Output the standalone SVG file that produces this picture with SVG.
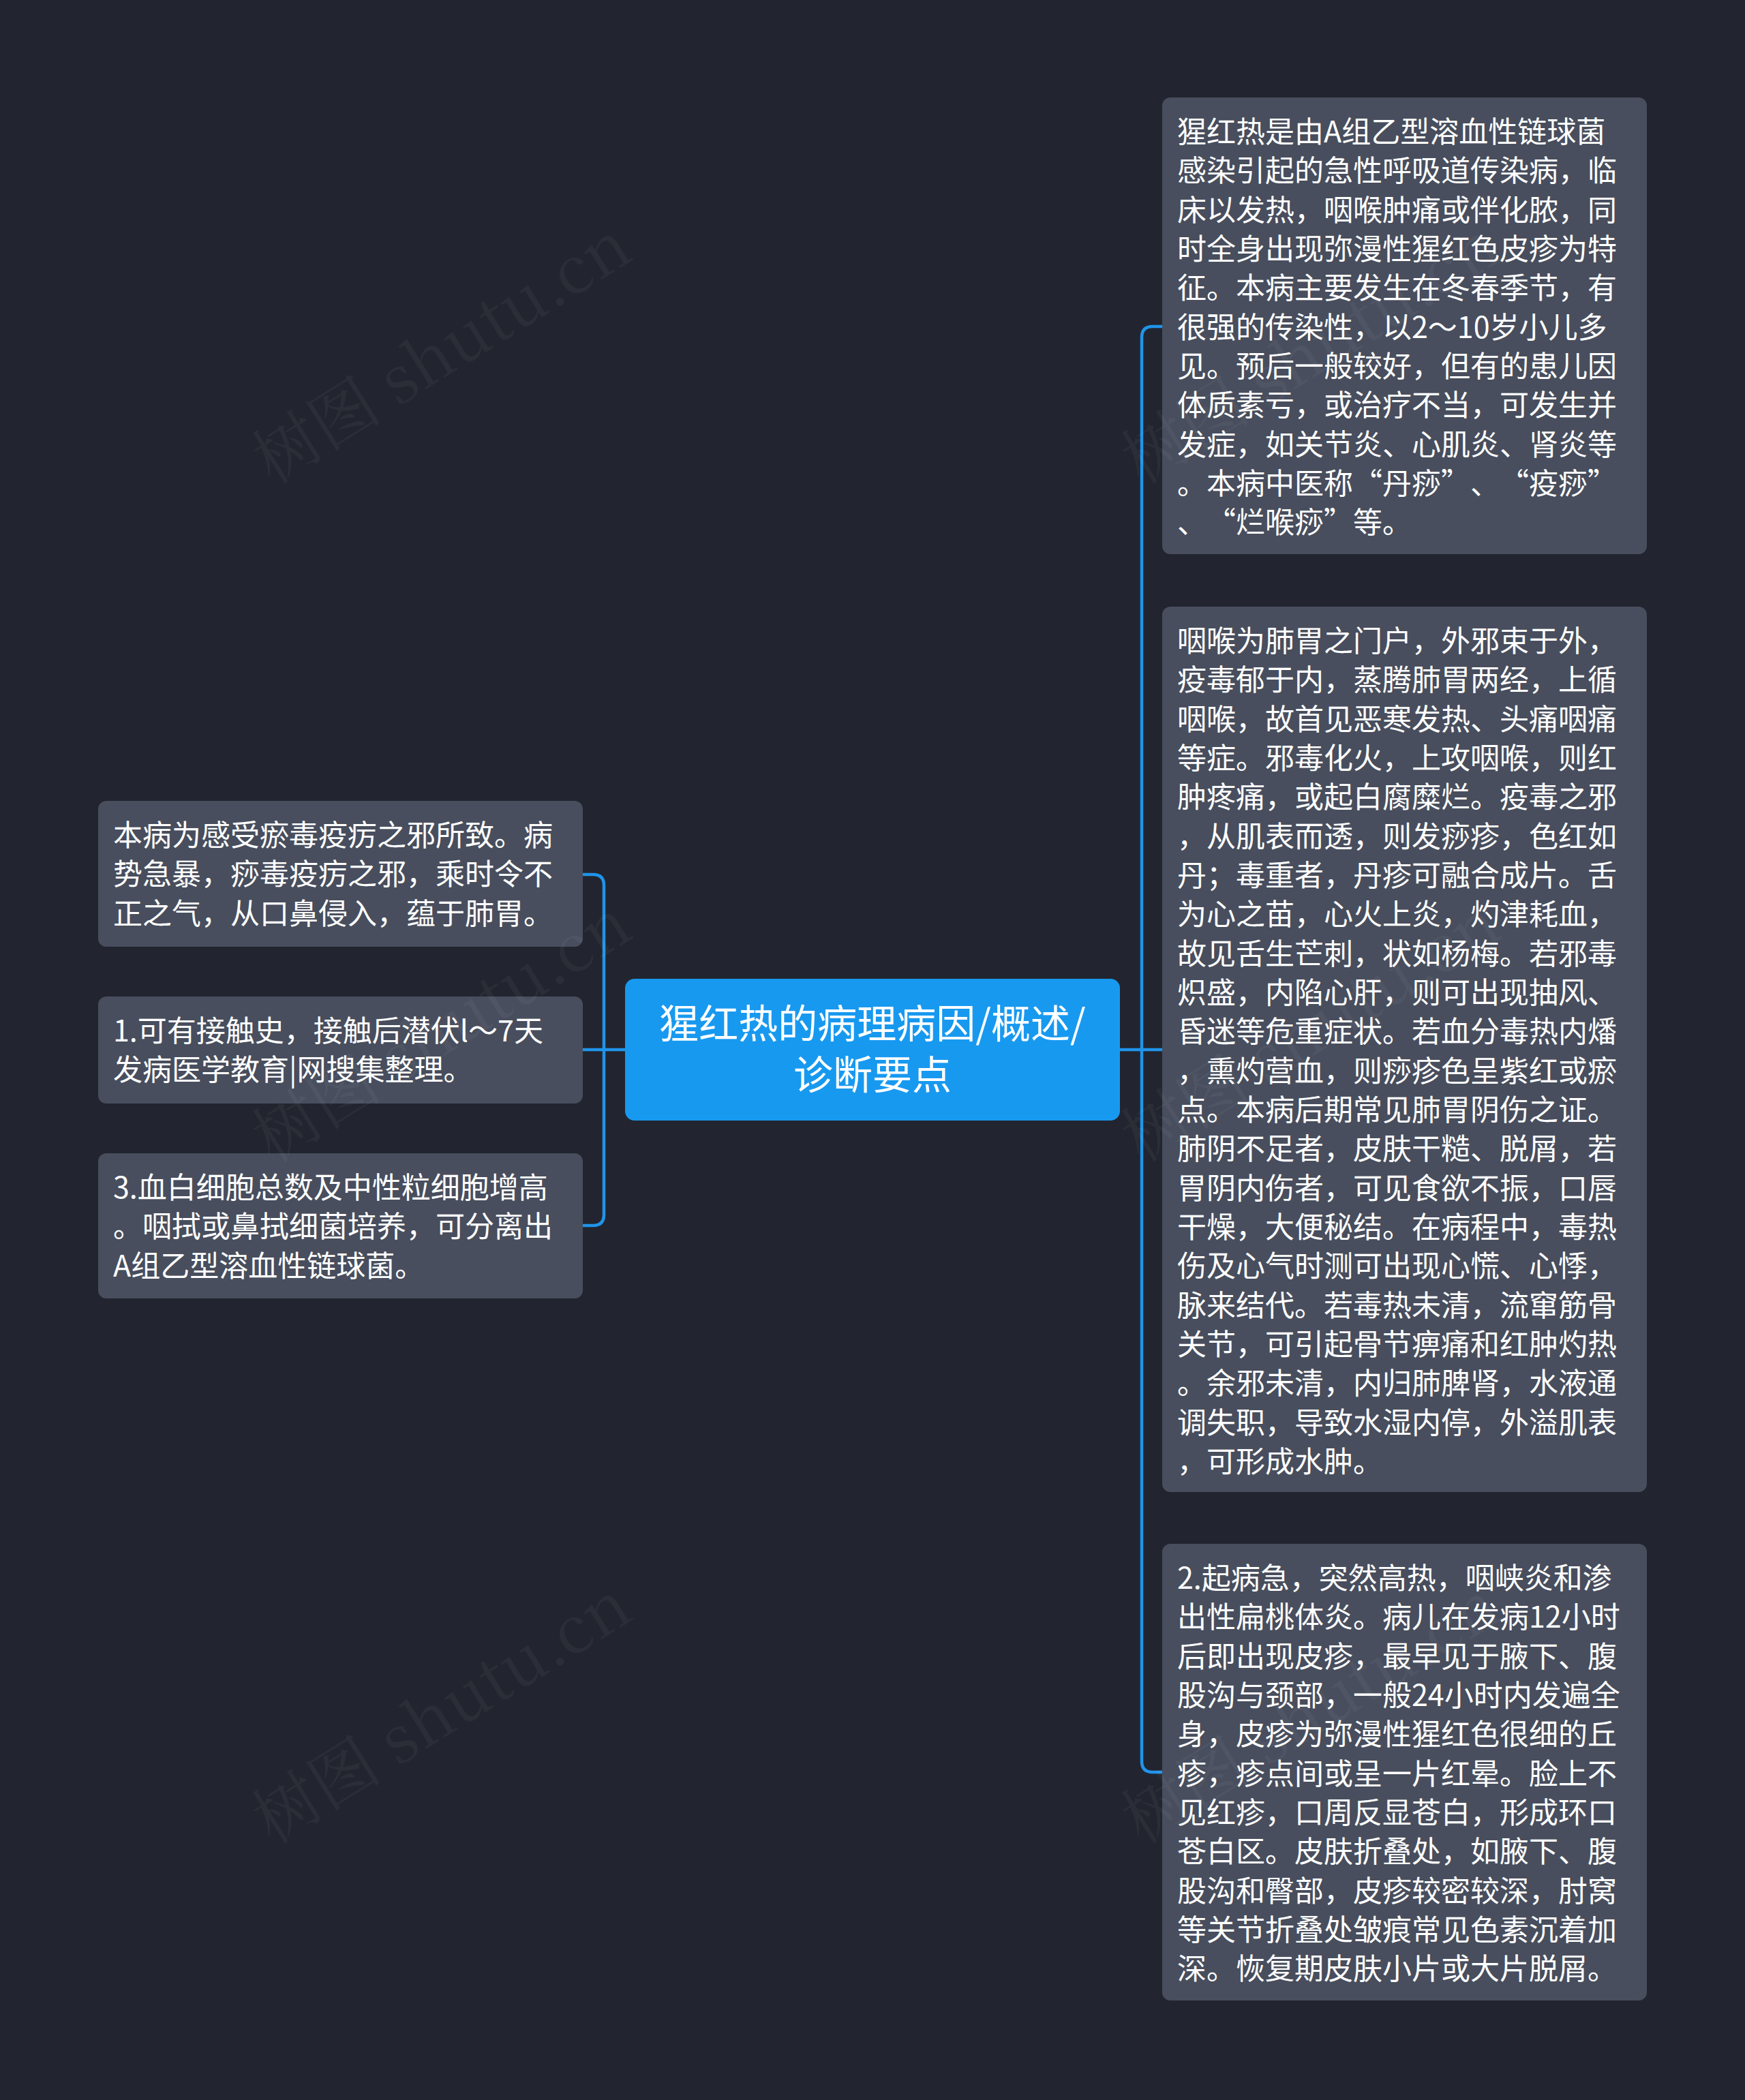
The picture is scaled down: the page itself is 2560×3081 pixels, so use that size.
<svg xmlns="http://www.w3.org/2000/svg" width="2560" height="3081" viewBox="0 0 2560 3081">
<style>
.bg{fill:#22252f}
.node rect{fill:#484e5d}
.node text{fill:#ffffff;font-family:"Noto Sans CJK SC","Noto Sans",sans-serif;font-size:43px}
.e{text-anchor:end}
.root rect{fill:#1899f0}
.root text{fill:#ffffff;font-family:"Noto Sans CJK SC","Noto Sans",sans-serif;font-size:58px;text-anchor:middle}
.conn path{fill:none;stroke:#2094ea;stroke-width:4.5}
.wm{fill:#ffffff;fill-opacity:0.045;font-family:"Noto Serif CJK SC","Noto Sans CJK SC","Liberation Serif",serif;font-size:96px}
</style>
<rect class="bg" x="0" y="0" width="2560" height="3081"/>

<g id="connectors" class="conn">
<path d="M855 1283 H870 Q886 1283 886 1299 V1782 Q886 1798 870 1798 H855"/>
<path d="M917 1540 H855"/>
<path d="M1705 479 H1691 Q1675 479 1675 495 V2584 Q1675 2600 1691 2600 H1705"/>
<path d="M1643 1540 H1705"/>
</g>

<g id="root" class="root">
<rect x="917" y="1436" width="726" height="208" rx="14"/>
<text><tspan x="1280" y="1523">猩红热的病理病因/概述/</tspan><tspan x="1280" y="1598">诊断要点</tspan></text>
</g>

<g id="left1" class="node">
<rect x="144" y="1175" width="711" height="214" rx="12"/>
<text><tspan x="166" y="1241">本病为感受瘀毒疫疠之邪所致。病</tspan><tspan x="166" y="1298">势急暴，痧毒疫疠之邪，乘时令不</tspan><tspan x="166" y="1356">正之气，从口鼻侵入，蕴于肺胃。</tspan></text>
</g>

<g id="left2" class="node">
<rect x="144" y="1462" width="711" height="157" rx="12"/>
<text><tspan x="166" y="1528">1.可有接触史，接触后潜伏l～7天</tspan><tspan x="166" y="1585">发病医学教育|网搜集整理。</tspan></text>
</g>

<g id="left3" class="node">
<rect x="144" y="1692" width="711" height="213" rx="12"/>
<text><tspan x="166" y="1758">3.血白细胞总数及中性粒细胞增高</tspan><tspan x="166" y="1815">。咽拭或鼻拭细菌培养，可分离出</tspan><tspan x="166" y="1873">A组乙型溶血性链球菌。</tspan></text>
</g>

<g id="right1" class="node">
<rect x="1705" y="143" width="711" height="670" rx="12"/>
<text>
<tspan x="1727" y="209">猩红热是由A组乙型溶血性链球菌</tspan>
<tspan x="1727" y="266">感染引起的急性呼吸道传染病，临</tspan>
<tspan x="1727" y="324">床以发热，咽喉肿痛或伴化脓，同</tspan>
<tspan x="1727" y="381">时全身出现弥漫性猩红色皮疹为特</tspan>
<tspan x="1727" y="438">征。本病主要发生在冬春季节，有</tspan>
<tspan x="1727" y="496">很强的传染性，以2～10岁小儿多</tspan>
<tspan x="1727" y="553">见。预后一般较好，但有的患儿因</tspan>
<tspan x="1727" y="610">体质素亏，或治疗不当，可发生并</tspan>
<tspan x="1727" y="668">发症，如关节炎、心肌炎、肾炎等</tspan>
<tspan x="1727" y="725">。本病中医称</tspan><tspan class="e" x="2028" y="725">“</tspan><tspan x="2028" y="725">丹痧</tspan><tspan x="2114" y="725">”</tspan><tspan x="2157" y="725">、</tspan><tspan class="e" x="2243" y="725">“</tspan><tspan x="2243" y="725">疫痧</tspan><tspan x="2329" y="725">”</tspan>
<tspan x="1727" y="782">、</tspan><tspan class="e" x="1813" y="782">“</tspan><tspan x="1813" y="782">烂喉痧</tspan><tspan x="1942" y="782">”</tspan><tspan x="1985" y="782">等。</tspan>
</text>
</g>

<g id="right2" class="node">
<rect x="1705" y="890" width="711" height="1299" rx="12"/>
<text>
<tspan x="1727" y="956">咽喉为肺胃之门户，外邪束于外，</tspan>
<tspan x="1727" y="1013">疫毒郁于内，蒸腾肺胃两经，上循</tspan>
<tspan x="1727" y="1071">咽喉，故首见恶寒发热、头痛咽痛</tspan>
<tspan x="1727" y="1128">等症。邪毒化火，上攻咽喉，则红</tspan>
<tspan x="1727" y="1185">肿疼痛，或起白腐糜烂。疫毒之邪</tspan>
<tspan x="1727" y="1243">，从肌表而透，则发痧疹，色红如</tspan>
<tspan x="1727" y="1300">丹；毒重者，丹疹可融合成片。舌</tspan>
<tspan x="1727" y="1357">为心之苗，心火上炎，灼津耗血，</tspan>
<tspan x="1727" y="1415">故见舌生芒刺，状如杨梅。若邪毒</tspan>
<tspan x="1727" y="1472">炽盛，内陷心肝，则可出现抽风、</tspan>
<tspan x="1727" y="1529">昏迷等危重症状。若血分毒热内燔</tspan>
<tspan x="1727" y="1587">，熏灼营血，则痧疹色呈紫红或瘀</tspan>
<tspan x="1727" y="1644">点。本病后期常见肺胃阴伤之证。</tspan>
<tspan x="1727" y="1701">肺阴不足者，皮肤干糙、脱屑，若</tspan>
<tspan x="1727" y="1759">胃阴内伤者，可见食欲不振，口唇</tspan>
<tspan x="1727" y="1816">干燥，大便秘结。在病程中，毒热</tspan>
<tspan x="1727" y="1873">伤及心气时测可出现心慌、心悸，</tspan>
<tspan x="1727" y="1931">脉来结代。若毒热未清，流窜筋骨</tspan>
<tspan x="1727" y="1988">关节，可引起骨节痹痛和红肿灼热</tspan>
<tspan x="1727" y="2045">。余邪未清，内归肺脾肾，水液通</tspan>
<tspan x="1727" y="2103">调失职，导致水湿内停，外溢肌表</tspan>
<tspan x="1727" y="2160">，可形成水肿。</tspan>
</text>
</g>

<g id="right3" class="node">
<rect x="1705" y="2265" width="711" height="670" rx="12"/>
<text>
<tspan x="1727" y="2331">2.起病急，突然高热，咽峡炎和渗</tspan>
<tspan x="1727" y="2388">出性扁桃体炎。病儿在发病12小时</tspan>
<tspan x="1727" y="2446">后即出现皮疹，最早见于腋下、腹</tspan>
<tspan x="1727" y="2503">股沟与颈部，一般24小时内发遍全</tspan>
<tspan x="1727" y="2560">身，皮疹为弥漫性猩红色很细的丘</tspan>
<tspan x="1727" y="2618">疹，疹点间或呈一片红晕。脸上不</tspan>
<tspan x="1727" y="2675">见红疹，口周反显苍白，形成环口</tspan>
<tspan x="1727" y="2732">苍白区。皮肤折叠处，如腋下、腹</tspan>
<tspan x="1727" y="2790">股沟和臀部，皮疹较密较深，肘窝</tspan>
<tspan x="1727" y="2847">等关节折叠处皱痕常见色素沉着加</tspan>
<tspan x="1727" y="2904">深。恢复期皮肤小片或大片脱屑。</tspan>
</text>
</g>

<g id="watermark">
<text class="wm" transform="translate(650 520) rotate(-32)" text-anchor="middle" dy="30">树图 shutu.cn</text>
<text class="wm" transform="translate(650 1515) rotate(-32)" text-anchor="middle" dy="30">树图 shutu.cn</text>
<text class="wm" transform="translate(650 2515) rotate(-32)" text-anchor="middle" dy="30">树图 shutu.cn</text>
<text class="wm" transform="translate(1925 520) rotate(-32)" text-anchor="middle" dy="30">树图 shutu.cn</text>
<text class="wm" transform="translate(1925 1515) rotate(-32)" text-anchor="middle" dy="30">树图 shutu.cn</text>
<text class="wm" transform="translate(1925 2515) rotate(-32)" text-anchor="middle" dy="30">树图 shutu.cn</text>
</g>
</svg>
